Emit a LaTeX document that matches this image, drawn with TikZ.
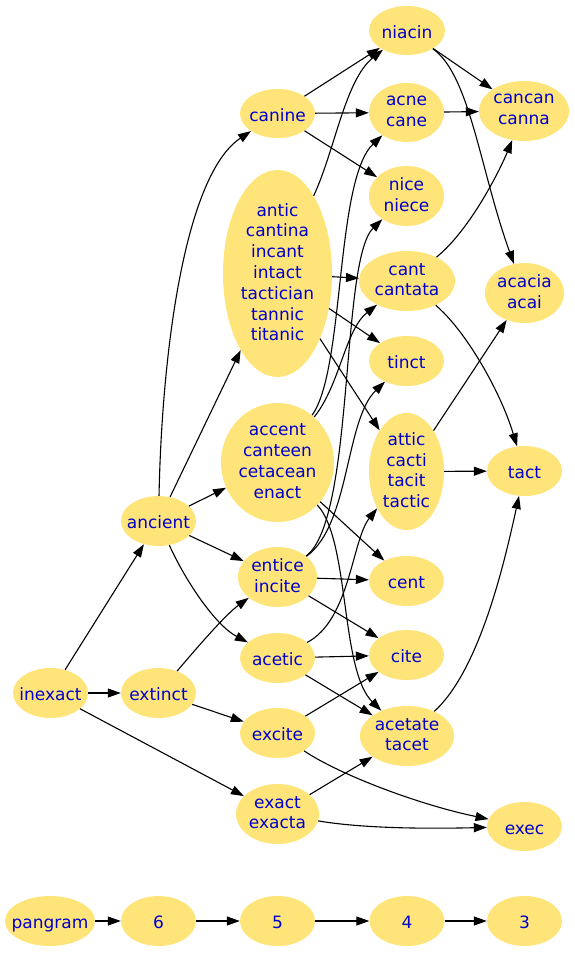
\documentclass[tikz,border=0pt]{standalone}
\usepackage{fontspec}
\setmainfont{DejaVu Sans}
\usetikzlibrary{shapes.geometric,arrows.meta}
\definecolor{nodefill}{RGB}{255,228,122}
\definecolor{nodetext}{RGB}{0,0,205}
\newcommand\mystrutbox{\rule[-3pt]{0pt}{21.3pt}}
\begin{document}
\begin{tikzpicture}[x=1pt,y=-1pt,
  nd/.style={ellipse, fill=nodefill, text=nodetext, inner xsep=-15pt, inner ysep=-12pt,
    align=center, font=\fontsize{17}{20.8}\selectfont,
    execute at begin node=\mystrutbox, execute at end node=\mystrutbox},
  edge/.style={draw=black, line width=1.1pt, -{Triangle[length=13pt,width=9pt]}}]
\useasboundingbox (0,0) rectangle (575,953);
% nodes
\node[nd, minimum width=76pt, minimum height=49pt] (niacin) at (407,30.5) {niacin};
\node[nd, minimum width=75pt, minimum height=49pt] (canine) at (277.5,113.5) {canine};
\node[nd, minimum width=75pt, minimum height=59pt] (acne) at (406.5,112.5) {acne\\cane};
\node[nd, minimum width=90pt, minimum height=60pt] (cancan) at (524,111) {cancan\\canna};
\node[nd, minimum width=75pt, minimum height=60pt] (nice) at (406.5,196) {nice\\niece};
\node[nd, minimum width=109pt, minimum height=207pt] (antic) at (277.5,273.5) {antic\\cantina\\incant\\intact\\tactician\\tannic\\titanic};
\node[nd, minimum width=96pt, minimum height=60pt] (cant) at (407,281) {cant\\cantata};
\node[nd, minimum width=79pt, minimum height=60pt] (acacia) at (524.5,293) {acacia\\acai};
\node[nd, minimum width=75pt, minimum height=50pt] (tinct) at (406.5,361) {tinct};
\node[nd, minimum width=113pt, minimum height=119pt] (accent) at (277.5,462.5) {accent\\canteen\\cetacean\\enact};
\node[nd, minimum width=75pt, minimum height=117pt] (attic) at (406.5,471.5) {attic\\cacti\\tacit\\tactic};
\node[nd, minimum width=75pt, minimum height=50pt] (tact) at (524.5,471) {tact};
\node[nd, minimum width=75pt, minimum height=50pt] (ancient) at (158.5,521) {ancient};
\node[nd, minimum width=79pt, minimum height=60pt] (entice) at (277.5,577) {entice\\incite};
\node[nd, minimum width=75pt, minimum height=50pt] (cent) at (406.5,581) {cent};
\node[nd, minimum width=75pt, minimum height=50pt] (acetic) at (277.5,658) {acetic};
\node[nd, minimum width=75pt, minimum height=50pt] (cite) at (406.5,655) {cite};
\node[nd, minimum width=75pt, minimum height=50pt] (inexact) at (50.5,693) {inexact};
\node[nd, minimum width=75pt, minimum height=50pt] (extinct) at (158.5,693) {extinct};
\node[nd, minimum width=75pt, minimum height=50pt] (excite) at (277.5,733) {excite};
\node[nd, minimum width=94pt, minimum height=60pt] (acetate) at (407,736) {acetate\\tacet};
\node[nd, minimum width=83pt, minimum height=60pt] (exact) at (277.5,814) {exact\\exacta};
\node[nd, minimum width=75pt, minimum height=49pt] (exec) at (524.5,826.5) {exec};
% legend
\node[nd, minimum width=90pt, minimum height=50pt] (pangram) at (50,921) {pangram};
\node[nd, minimum width=75pt, minimum height=50pt] (l6) at (158.5,921) {6};
\node[nd, minimum width=75pt, minimum height=50pt] (l5) at (277.5,921) {5};
\node[nd, minimum width=75pt, minimum height=50pt] (l4) at (407,921) {4};
\node[nd, minimum width=75pt, minimum height=50pt] (l3) at (524.5,921) {3};
% edges
\draw[edge] (inexact) -- (ancient);
\draw[edge] (inexact) -- (extinct);
\draw[edge] (inexact) -- (exact);
\draw[edge] (ancient) .. controls (162,350) and (185,175) .. (canine);
\draw[edge] (ancient) -- (antic);
\draw[edge] (ancient) -- (accent);
\draw[edge] (ancient) -- (entice);
\draw[edge] (ancient) .. controls (185,580) and (215,625) .. (acetic);
\draw[edge] (extinct) .. controls (195,650) and (225,615) .. (entice);
\draw[edge] (extinct) -- (excite);
\draw[edge] (canine) -- (niacin);
\draw[edge] (canine) -- (acne);
\draw[edge] (canine) -- (nice);
\draw[edge] (niacin) -- (cancan);
\draw[edge] (niacin) .. controls (470,75) and (480,170) .. (acacia);
\draw[edge] (acne) -- (cancan);
\draw[edge] (antic) .. controls (335,150) and (345,80) .. (niacin);
\draw[edge] (antic) -- (cant);
\draw[edge] (antic) -- (tinct);
\draw[edge] (antic) -- (attic);
\draw[edge] (cant) .. controls (470,230) and (500,170) .. (cancan);
\draw[edge] (cant) .. controls (465,330) and (500,390) .. (tact);
\draw[edge] (attic) -- (acacia);
\draw[edge] (attic) -- (tact);
\draw[edge] (accent) .. controls (345,370) and (335,180) .. (acne);
\draw[edge] (accent) .. controls (340,385) and (345,330) .. (cant);
\draw[edge] (accent) -- (cent);
\draw[edge] (accent) .. controls (350,540) and (340,670) .. (acetate);
\draw[edge] (entice) .. controls (355,520) and (340,260) .. (nice);
\draw[edge] (entice) .. controls (350,525) and (345,420) .. (tinct);
\draw[edge] (entice) -- (cent);
\draw[edge] (entice) -- (cite);
\draw[edge] (acetic) .. controls (350,620) and (352,540) .. (attic);
\draw[edge] (acetic) -- (cite);
\draw[edge] (acetic) -- (acetate);
\draw[edge] (excite) -- (cite);
\draw[edge] (excite) .. controls (340,775) and (420,805) .. (exec);
\draw[edge] (exact) -- (acetate);
\draw[edge] (exact) .. controls (360,828) and (420,829) .. (exec);
\draw[edge] (acetate) .. controls (480,670) and (505,560) .. (tact);
\draw[edge] (pangram) -- (l6);
\draw[edge] (l6) -- (l5);
\draw[edge] (l5) -- (l4);
\draw[edge] (l4) -- (l3);
\end{tikzpicture}
\end{document}
